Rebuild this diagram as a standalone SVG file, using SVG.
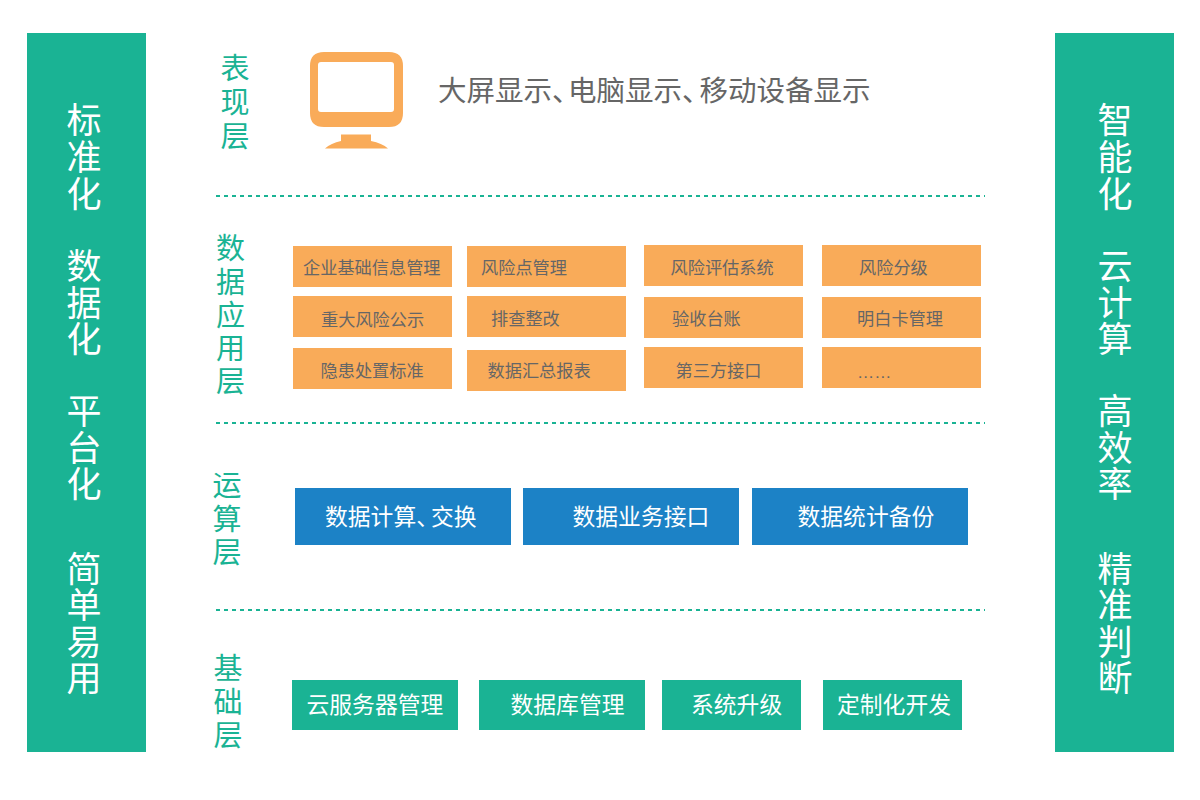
<svg xmlns="http://www.w3.org/2000/svg" width="1200" height="800" viewBox="0 0 1200 800">
<style>
text{font-family:"Liberation Sans","Noto Sans CJK SC",sans-serif}
.side{fill:#1ab394}
.st{fill:#fff;font-size:35px;text-anchor:middle}
.layer{fill:#1ab394;font-size:29px;text-anchor:middle}
.o{fill:#f9ab59}
.ot{fill:#666;font-size:17.2px}
.b{fill:#1c82c6}
.g{fill:#1ab394}
.wt{fill:#fff;font-size:22.8px}
.halt{font-feature-settings:"halt"}
.div{stroke:#1ab394;stroke-width:2;stroke-dasharray:4 4;fill:none}
</style>
<rect width="1200" height="800" fill="#fff"/>
<g id="left-panel">
<rect class="side" x="27" y="33" width="119" height="719"/>
<text class="st"><tspan x="84" y="133">标</tspan><tspan x="84" y="170">准</tspan><tspan x="84" y="207">化</tspan><tspan x="84" y="279">数</tspan><tspan x="84" y="316">据</tspan><tspan x="84" y="352">化</tspan><tspan x="84" y="424">平</tspan><tspan x="84" y="461">台</tspan><tspan x="84" y="497">化</tspan><tspan x="84" y="582">简</tspan><tspan x="84" y="618">单</tspan><tspan x="84" y="655">易</tspan><tspan x="84" y="691">用</tspan></text>
</g>
<g id="right-panel">
<rect class="side" x="1055" y="33" width="119" height="719"/>
<text class="st"><tspan x="1115" y="133">智</tspan><tspan x="1115" y="170">能</tspan><tspan x="1115" y="207">化</tspan><tspan x="1115" y="279">云</tspan><tspan x="1115" y="316">计</tspan><tspan x="1115" y="352">算</tspan><tspan x="1115" y="424">高</tspan><tspan x="1115" y="461">效</tspan><tspan x="1115" y="497">率</tspan><tspan x="1115" y="582">精</tspan><tspan x="1115" y="618">准</tspan><tspan x="1115" y="655">判</tspan><tspan x="1115" y="691">断</tspan></text>
</g>
<g id="dividers">
<line class="div" x1="216" y1="196" x2="985" y2="196"/>
<line class="div" x1="216" y1="423" x2="985" y2="423"/>
<line class="div" x1="216" y1="610" x2="985" y2="610"/>
</g>
<g id="layer-present">
<text class="layer"><tspan x="235" y="79">表</tspan><tspan x="235" y="113">现</tspan><tspan x="235" y="147">层</tspan></text>
<path fill-rule="evenodd" class="o" d="M324 52H389Q403 52 403 66V113Q403 127 389 127H324Q310 127 310 113V66Q310 52 324 52ZM321 62Q318 62 318 65V109Q318 112 321 112H391Q394 112 394 109V65Q394 62 391 62Z"/>
<path d="M341 134.500H371V141Q382 143 388 148.500H325Q331 143 341 141Z" class="o"/>
<text class="halt" fill="#666" font-size="28.500"><tspan x="438" y="101">大屏显示、</tspan><tspan x="568" y="101">电脑显示、</tspan><tspan x="699.500" y="101">移动设备显示</tspan></text>
</g>
<g id="layer-data">
<text class="layer"><tspan x="230.500" y="259">数</tspan><tspan x="230.500" y="293">据</tspan><tspan x="230.500" y="326">应</tspan><tspan x="230.500" y="359">用</tspan><tspan x="230.500" y="392">层</tspan></text>
<g id="n1"><rect class="o" x="293" y="246" width="159" height="41"/><text class="ot" x="303" y="274">企业基础信息管理</text></g>
<g id="n2"><rect class="o" x="467" y="246" width="159" height="41"/><text class="ot" x="481" y="274">风险点管理</text></g>
<g id="n3"><rect class="o" x="644" y="245" width="159" height="41"/><text class="ot" x="670.500" y="274">风险评估系统</text></g>
<g id="n4"><rect class="o" x="822" y="245" width="159" height="41"/><text class="ot" x="859" y="274">风险分级</text></g>
<g id="n5"><rect class="o" x="293" y="296" width="159" height="41"/><text class="ot" x="321" y="326">重大风险公示</text></g>
<g id="n6"><rect class="o" x="467" y="296" width="159" height="41"/><text class="ot" x="491" y="325">排查整改</text></g>
<g id="n7"><rect class="o" x="644" y="297" width="159" height="41"/><text class="ot" x="672" y="325">验收台账</text></g>
<g id="n8"><rect class="o" x="822" y="297" width="159" height="41"/><text class="ot" x="857" y="325">明白卡管理</text></g>
<g id="n9"><rect class="o" x="293" y="348" width="159" height="41"/><text class="ot" x="320.500" y="377">隐患处置标准</text></g>
<g id="n10"><rect class="o" x="467" y="350" width="159" height="41"/><text class="ot" x="487.500" y="377">数据汇总报表</text></g>
<g id="n11"><rect class="o" x="644" y="347" width="159" height="41"/><text class="ot" x="675.500" y="377">第三方接口</text></g>
<g id="n12"><rect class="o" x="822" y="347" width="159" height="41"/><text class="ot" x="857" y="378">……</text></g>
</g>
<g id="layer-compute">
<text class="layer"><tspan x="227" y="496">运</tspan><tspan x="227" y="530">算</tspan><tspan x="227" y="563">层</tspan></text>
<g id="c1"><rect class="b" x="295" y="488" width="216" height="57"/><text class="wt halt" x="325" y="525">数据计算、<tspan x="431">交换</tspan></text></g>
<g id="c2"><rect class="b" x="523" y="488" width="216" height="57"/><text class="wt" x="572.500" y="525">数据业务接口</text></g>
<g id="c3"><rect class="b" x="752" y="488" width="216" height="57"/><text class="wt" x="797.500" y="525">数据统计备份</text></g>
</g>
<g id="layer-base">
<text class="layer"><tspan x="228" y="679">基</tspan><tspan x="228" y="713">础</tspan><tspan x="228" y="746">层</tspan></text>
<g id="b1"><rect class="g" x="292" y="680" width="166" height="50"/><text class="wt" x="306.500" y="713">云服务器管理</text></g>
<g id="b2"><rect class="g" x="479" y="680" width="166" height="50"/><text class="wt" x="510.500" y="713">数据库管理</text></g>
<g id="b3"><rect class="g" x="662" y="680" width="139" height="50"/><text class="wt" x="691" y="713">系统升级</text></g>
<g id="b4"><rect class="g" x="823" y="680" width="139" height="50"/><text class="wt" x="837" y="713">定制化开发</text></g>
</g>
</svg>
